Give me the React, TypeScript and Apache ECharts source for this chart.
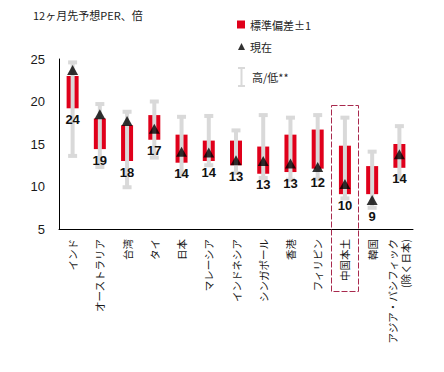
import React, { useEffect, useRef } from "react";
import * as echarts from "echarts";

const categories = [
  "インド",
  "オーストラリア",
  "台湾",
  "タイ",
  "日本",
  "マレーシア",
  "インドネシア",
  "シンガポール",
  "香港",
  "フィリピン",
  "中国本土",
  "韓国",
  "アジア・パシフィック\n(除く日本)",
];
const highValues = [24.6, 19.7, 18.8, 20.0, 18.2, 18.3, 16.6, 18.4, 18.1, 18.4, 18.1, 14.1, 17.1];
const lowValues = [13.6, 12.3, 9.9, 13.4, 11.4, 12.5, 11.6, 11.0, 10.8, 10.9, 8.6, 7.5, 11.0];
const sdHighValues = [23.0, 18.0, 17.2, 18.4, 16.1, 15.4, 15.4, 14.7, 16.1, 16.7, 14.8, 12.4, 15.0];
const sdLowValues = [19.2, 14.4, 13.0, 15.5, 12.8, 13.0, 12.5, 11.5, 11.7, 12.1, 9.1, 9.1, 12.2];
const currentValues = [23.7, 18.5, 17.7, 16.8, 14.1, 14.0, 13.1, 13.0, 12.7, 12.3, 10.3, 8.4, 13.8];
const currentLabels = ["24", "19", "18", "17", "14", "14", "13", "13", "13", "12", "10", "9", "14"];
const yTicks = { min: 5, max: 25, interval: 5 };
const highlightCategory = "中国本土";

const RED = "#e0001b";
const GREY = "#d9d9d9";
const CJK = "'Noto Sans CJK JP', 'Noto Sans', sans-serif";

export default function App() {
  const ref = useRef<HTMLDivElement>(null);
  useEffect(() => {
    if (!ref.current) return;
    const chart = echarts.init(ref.current, undefined, { renderer: "svg" });
    const option: any = {
      animation: false,
      title: {
        text: "12ヶ月先予想PER、倍",
        left: 33,
        top: 9,
        padding: 0,
        textStyle: { fontSize: 11, fontWeight: "normal", color: "#1a1a1a", fontFamily: CJK },
      },
      legend: [
        {
          data: ["標準偏差±1"],
          left: 237,
          top: 19,
          padding: 0,
          icon: "rect",
          itemWidth: 8,
          itemHeight: 8,
          selectedMode: false,
          textStyle: { fontSize: 11, color: "#262626", fontFamily: CJK },
        },
        {
          data: ["現在"],
          left: 238,
          top: 41,
          padding: 0,
          icon: "triangle",
          itemWidth: 7,
          itemHeight: 7,
          selectedMode: false,
          textStyle: { fontSize: 11, color: "#262626", fontFamily: CJK },
        },
        {
          data: ["高/低**"],
          left: 238,
          top: 67,
          padding: 0,
          icon: "path://M0,0H7V2H4.5V18H7V20H0V18H2.5V2H0Z",
          itemWidth: 7,
          itemHeight: 20,
          selectedMode: false,
          textStyle: { fontSize: 11, color: "#262626", fontFamily: CJK, padding: [0, 0, 0, 2] },
        },
      ],
      grid: { left: 59, right: 31, top: 59, bottom: 143, outerBoundsMode: "none" },
      xAxis: {
        type: "category",
        data: categories,
        boundaryGap: true,
        axisLine: { lineStyle: { color: "#000", width: 1 } },
        axisTick: { show: false },
        axisLabel: {
          rotate: 90,
          interval: 0,
          margin: 10,
          fontSize: 10.5,
          lineHeight: 13,
          color: "#1a1a1a",
          fontFamily: CJK,
          padding: [0, 0, 10, 0],
        },
      },
      yAxis: {
        type: "value",
        min: yTicks.min,
        max: yTicks.max,
        interval: yTicks.interval,
        splitLine: { show: false },
        axisLine: { show: true, lineStyle: { color: "#000", width: 1 } },
        axisTick: { show: false },
        axisLabel: { fontSize: 13, color: "#1a1a1a", margin: 14, fontFamily: "'Liberation Sans', Arial, sans-serif" },
      },
      series: [
        {
          name: "標準偏差±1",
          type: "custom",
          z: 2,
          itemStyle: { color: RED },
          encode: { x: 0, y: [1, 2] },
          data: categories.map((_, i) => [i, sdLowValues[i], sdHighValues[i]]),
          renderItem: (params: any, api: any) => {
            const x = api.value(0);
            const pLo = api.coord([x, api.value(1)]);
            const pHi = api.coord([x, api.value(2)]);
            return {
              type: "rect",
              shape: { x: pLo[0] - 6, y: pHi[1], width: 12, height: pLo[1] - pHi[1] },
              style: { fill: RED },
            };
          },
        },
        {
          name: "高/低**",
          type: "custom",
          z: 3,
          itemStyle: { color: GREY },
          encode: { x: 0, y: [1, 2] },
          data: categories.map((_, i) => [i, lowValues[i], highValues[i]]),
          renderItem: (params: any, api: any) => {
            const x = api.value(0);
            const pLo = api.coord([x, api.value(1)]);
            const pHi = api.coord([x, api.value(2)]);
            return {
              type: "group",
              children: [
                {
                  type: "rect",
                  shape: { x: pLo[0] - 2, y: pHi[1], width: 4, height: pLo[1] - pHi[1] },
                  style: { fill: GREY },
                },
                {
                  type: "rect",
                  shape: { x: pHi[0] - 4.5, y: pHi[1] - 2, width: 9, height: 4 },
                  style: { fill: GREY },
                },
                {
                  type: "rect",
                  shape: { x: pLo[0] - 4.5, y: pLo[1] - 2, width: 9, height: 4 },
                  style: { fill: GREY },
                },
              ],
            };
          },
        },
        {
          name: "現在",
          type: "scatter",
          z: 4,
          symbol: "triangle",
          symbolSize: [11, 10],
          itemStyle: { color: "#000" },
          data: categories.map((c, i) => [c, currentValues[i]]),
        },
        {
          name: "labels",
          type: "custom",
          z: 5,
          encode: { x: 0, y: 1 },
          data: categories.map((_, i) => [i, sdLowValues[i], currentValues[i], currentLabels[i]]),
          renderItem: (params: any, api: any) => {
            const x = api.value(0);
            const pBox = api.coord([x, api.value(1)]);
            const pCur = api.coord([x, api.value(2)]);
            const y = Math.max(pBox[1], pCur[1] + 5) + 11;
            return {
              type: "text",
              x: pBox[0],
              y,
              style: {
                text: currentLabels[params.dataIndex],
                fill: "#111",
                font: "bold 13px 'Liberation Sans', Arial, sans-serif",
                align: "center",
                verticalAlign: "middle",
              },
            };
          },
        },
      ],
    };
    chart.setOption(option);
    const idx = categories.indexOf(highlightCategory);
    const cx = chart.convertToPixel({ xAxisIndex: 0 }, idx) as number;
    const cx2 = chart.convertToPixel({ xAxisIndex: 0 }, idx + 1) as number;
    const bw = cx2 - cx;
    chart.setOption({
      graphic: [
        {
          type: "rect",
          z: 10,
          shape: { x: Math.round(cx - bw / 2) + 0.5, y: 105.5, width: Math.round(bw), height: 186 },
          style: { fill: "none", stroke: "#a8294d", lineWidth: 1, lineDash: [6, 2] },
        },
      ],
    });
    return () => chart.dispose();
  }, []);
  return (
    <div
      ref={ref}
      style={{ position: "fixed", left: 0, top: 0, width: 444, height: 372, background: "#fff" }}
    />
  );
}
